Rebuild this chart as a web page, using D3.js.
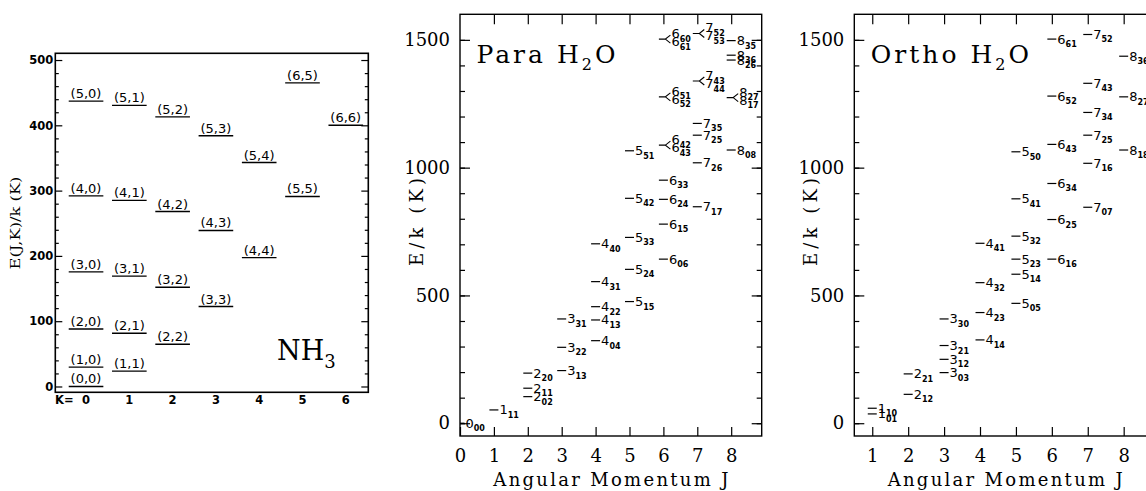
<!DOCTYPE html>
<html lang="en">
<head>
<meta charset="UTF-8">
<title>NH3 and H2O rotational levels</title>
<script src="https://cdn.jsdelivr.net/npm/d3@7"></script>
<style>
  body { margin: 0; background: #fff; }
  svg { display: block; }
</style>
</head>
<body>
<svg id="chart" width="1146" height="491"></svg>
<script>
// ---- NH3 (J,K) levels ----
const nh3Label = ["(0,0)", "(1,0)", "(1,1)", "(2,0)", "(2,1)", "(2,2)",
                  "(3,0)", "(3,1)", "(3,2)", "(3,3)",
                  "(4,0)", "(4,1)", "(4,2)", "(4,3)", "(4,4)",
                  "(5,0)", "(5,1)", "(5,2)", "(5,3)", "(5,4)", "(5,5)",
                  "(6,5)", "(6,6)"];
const nh3K = [0, 0, 1, 0, 1, 2, 0, 1, 2, 3, 0, 1, 2, 3, 4, 0, 1, 2, 3, 4, 5, 5, 6];
const nh3E = [0, 29.6, 23.5, 88, 81.6, 64.8, 175.5, 169, 152, 122.4,
              292, 285, 268, 239, 197.4, 437, 430.6, 413, 384, 343, 291, 465, 400];
const nh3YTicks = [0, 100, 200, 300, 400, 500];
const nh3KTicks = [0, 1, 2, 3, 4, 5, 6];

// ---- para H2O levels (J, KaKc, E/k) ----
const paraJ = [0, 1, 2, 2, 2, 3, 3, 3, 4, 4, 4, 4, 4, 5, 5, 5, 5, 5,
               6, 6, 6, 6, 7, 7, 7, 7, 8, 8, 8, 8];
const paraSub = ["00", "11", "02", "11", "20", "13", "22", "31", "04", "13", "22", "31", "40",
                 "15", "24", "33", "42", "51", "06", "15", "24", "33",
                 "17", "26", "25", "35", "08", "35", "36", "26"];
const paraE = [0, 52, 104, 137, 196, 206, 297, 408, 323, 404, 456, 554, 702,
               476, 602, 727, 880, 1066, 642, 779, 876, 951,
               847, 1019, 1127, 1173, 1069, 1497, 1440, 1421];
// near-degenerate pairs drawn with a "<" fork
const paraPairJ = [6, 6, 6, 7, 7, 8];
const paraPairUp = ["60", "51", "42", "52", "43", "27"];
const paraPairDown = ["61", "52", "43", "53", "44", "17"];
const paraPairE = [1503, 1277, 1088, 1525, 1339, 1274];

// ---- ortho H2O levels ----
const orthoJ = [1, 1, 2, 2, 3, 3, 3, 3, 4, 4, 4, 4, 5, 5, 5, 5, 5, 5,
                6, 6, 6, 6, 6, 6, 7, 7, 7, 7, 7, 7, 8, 8, 8];
const orthoSub = ["10", "01", "12", "21", "03", "12", "21", "30", "14", "23", "32", "41",
                  "05", "14", "23", "32", "41", "50", "16", "25", "34", "43", "52", "61",
                  "07", "16", "25", "34", "43", "52", "18", "27", "36"];
const orthoE = [58.6, 36.4, 113, 193, 198, 250, 304, 408, 326, 433, 550, 704,
                469, 583, 642, 732, 878, 1062, 642, 797, 938, 1091, 1280, 1503,
                845, 1017, 1127, 1216, 1330, 1521, 1069, 1277, 1436];

const jTicks = [1, 2, 3, 4, 5, 6, 7, 8];
const eMajor = [0, 500, 1000, 1500];
const eMinor = d3.range(0, 1600, 100);

const svg = d3.select("#chart");
svg.append("rect").attr("width", 1146).attr("height", 491).attr("fill", "#fff");

const serif = "'DejaVu Serif', serif";
const sans = "'DejaVu Sans', sans-serif";
const plain = d3.format("d");

function styleAxis(g, font, size, weight) {
    g.select(".domain").remove();
    g.selectAll("line").attr("stroke", "#000").attr("stroke-width", 1.2);
    g.selectAll("text").attr("font-family", font).attr("font-size", size)
        .attr("font-weight", weight || "normal").attr("fill", "#000");
}

// ================= NH3 panel =================
function drawNH3() {
    const L = 55.3, R = 368.3, T = 53.3, B = 392.3;
    const x = d3.scaleLinear().domain([-0.71, 6.52]).range([L, R]);
    const y = d3.scaleLinear().domain([-8.9, 510.3]).range([B, T]);
    const g = svg.append("g");

    const minor = d3.range(0, 511, 20).filter(v => v % 100 !== 0);
    g.append("g").attr("transform", `translate(${L},0)`)
        .call(d3.axisLeft(y).tickValues(nh3YTicks).tickSize(-7).tickPadding(2).tickFormat(plain))
        .call(a => styleAxis(a, sans, 11.5, "bold"));
    g.append("g").attr("transform", `translate(${L},0)`)
        .call(d3.axisLeft(y).tickValues(minor).tickSize(-3.5).tickFormat(""))
        .call(a => styleAxis(a, sans, 11));
    g.append("g").attr("transform", `translate(${R},0)`)
        .call(d3.axisRight(y).tickValues(nh3YTicks).tickSize(-7).tickFormat(""))
        .call(a => styleAxis(a, sans, 11));
    g.append("g").attr("transform", `translate(${R},0)`)
        .call(d3.axisRight(y).tickValues(minor).tickSize(-3.5).tickFormat(""))
        .call(a => styleAxis(a, sans, 11));

    g.append("rect").attr("x", L).attr("y", T).attr("width", R - L).attr("height", B - T)
        .attr("fill", "none").attr("stroke", "#000").attr("stroke-width", 1.6);

    // K labels along the bottom
    g.selectAll(".klab").data(nh3KTicks).join("text")
        .attr("x", d => x(d)).attr("y", 404)
        .attr("text-anchor", "middle")
        .attr("font-family", sans).attr("font-size", 11.5).attr("font-weight", "bold")
        .text(d => d);
    g.append("text").attr("x", 55).attr("y", 404)
        .attr("font-family", sans).attr("font-size", 11.5).attr("font-weight", "bold")
        .text("K=");

    // levels
    const lv = g.selectAll(".lv").data(nh3Label.map((l, i) => ({l, k: nh3K[i], e: nh3E[i]})))
        .join("g");
    lv.append("line")
        .attr("x1", d => x(d.k - 0.4)).attr("x2", d => x(d.k + 0.4))
        .attr("y1", d => y(d.e)).attr("y2", d => y(d.e))
        .attr("stroke", "#000").attr("stroke-width", 1.4);
    lv.append("text")
        .attr("x", d => x(d.k)).attr("y", d => y(d.e) - 3)
        .attr("text-anchor", "middle")
        .attr("font-family", sans).attr("font-size", 13)
        .text(d => d.l);

    g.append("text")
        .attr("transform", "translate(20,223) rotate(-90)")
        .attr("text-anchor", "middle")
        .attr("font-family", serif).attr("font-size", 13)
        .attr("textLength", 93).attr("lengthAdjust", "spacingAndGlyphs")
        .text("E(J,K)/k (K)");

    const t = g.append("text").attr("x", 277).attr("y", 360)
        .attr("font-family", serif).attr("font-size", 27);
    t.append("tspan").text("NH");
    t.append("tspan").attr("font-size", 18).attr("dy", 8).text("3");
}

// ================= H2O panels =================
function drawH2O(o) {
    const L = o.left, R = o.left + 301.7, T = 14.3, B = 436;
    const x = d3.scaleLinear().domain(o.xDomain).range([L, R]);
    const y = d3.scaleLinear().domain([-50, 1600]).range([B, T]);
    const g = svg.append("g");

    g.append("g").attr("transform", `translate(0,${B})`)
        .call(d3.axisBottom(x).tickValues(o.xTicks).tickSize(-9).tickPadding(13).tickFormat(plain))
        .call(a => styleAxis(a, serif, 18));
    g.append("g").attr("transform", `translate(0,${T})`)
        .call(d3.axisTop(x).tickValues(jTicks).tickSize(-10).tickFormat(""))
        .call(a => styleAxis(a, serif, 18));
    g.append("g").attr("transform", `translate(${L},0)`)
        .call(d3.axisLeft(y).tickValues(eMajor).tickSize(-10).tickPadding(10).tickFormat(plain))
        .call(a => styleAxis(a, serif, 18));
    g.append("g").attr("transform", `translate(${L},0)`)
        .call(d3.axisLeft(y).tickValues(eMinor).tickSize(-5).tickFormat(""))
        .call(a => styleAxis(a, serif, 18));
    g.append("g").attr("transform", `translate(${R},0)`)
        .call(d3.axisRight(y).tickValues(eMajor).tickSize(-10).tickFormat(""))
        .call(a => styleAxis(a, serif, 18));
    g.append("g").attr("transform", `translate(${R},0)`)
        .call(d3.axisRight(y).tickValues(eMinor).tickSize(-5).tickFormat(""))
        .call(a => styleAxis(a, serif, 18));

    g.append("rect").attr("x", L).attr("y", T).attr("width", R - L).attr("height", B - T)
        .attr("fill", "none").attr("stroke", "#000").attr("stroke-width", 1.4);

    // single levels
    const lv = g.selectAll(".lv")
        .data(o.J.map((j, i) => ({j, s: o.sub[i], e: o.E[i]})))
        .join("g");
    lv.append("line")
        .attr("x1", d => Math.max(L, x(d.j) - 4.5)).attr("x2", d => x(d.j) + 4.5)
        .attr("y1", d => y(d.e)).attr("y2", d => y(d.e))
        .attr("stroke", "#000").attr("stroke-width", 1.2);
    const lt = lv.append("text")
        .attr("x", d => x(d.j) + 5.5).attr("y", d => y(d.e) + 4.5)
        .attr("font-family", sans).attr("fill", "#000");
    lt.append("tspan").attr("font-size", 13).text(d => d.j);
    lt.append("tspan").attr("font-size", 8).attr("font-weight", "bold").attr("dy", 3.5)
        .text(d => d.s);

    // forked pairs
    if (o.pairJ) {
        const pv = g.selectAll(".pv")
            .data(o.pairJ.map((j, i) => ({j, up: o.pairUp[i], dn: o.pairDown[i], e: o.pairE[i]})))
            .join("g");
        pv.append("path")
            .attr("d", d => {
                const px = x(d.j), py = y(d.e);
                return `M${px - 4.5},${py}H${px + 2}M${px + 7},${py - 4}L${px + 2},${py}L${px + 7},${py + 4}`;
            })
            .attr("fill", "none").attr("stroke", "#000").attr("stroke-width", 1.1);
        [["up", -1], ["dn", 7]].forEach(([key, off]) => {
            const tt = pv.append("text")
                .attr("x", d => x(d.j) + 8).attr("y", d => y(d.e) + off)
                .attr("font-family", sans).attr("fill", "#000");
            tt.append("tspan").attr("font-size", 13).text(d => d.j);
            tt.append("tspan").attr("font-size", 8).attr("font-weight", "bold").attr("dy", 3.5)
                .text(d => d[key]);
        });
    }

    const cx = (L + R) / 2;
    g.append("text").attr("x", cx).attr("y", 486)
        .attr("text-anchor", "middle")
        .attr("font-family", serif).attr("font-size", 18)
        .attr("textLength", 235).attr("lengthAdjust", "spacing")
        .text("Angular Momentum J");
    g.append("text")
        .attr("transform", `translate(${L - 37},222) rotate(-90)`)
        .attr("text-anchor", "middle")
        .attr("font-family", serif).attr("font-size", 18)
        .attr("textLength", 88).attr("lengthAdjust", "spacing")
        .text("E/k (K)");

    const t = g.append("text").attr("x", L + 16.5).attr("y", 63.3)
        .attr("font-family", serif).attr("font-size", 25).attr("letter-spacing", 3);
    t.append("tspan").text(o.title + " H");
    t.append("tspan").attr("font-size", 16).attr("dy", 7).text("2");
    t.append("tspan").attr("dy", -7).text("O");
}

drawNH3();
drawH2O({left: 460, xDomain: [0, 8.9], xTicks: [0].concat(jTicks), title: "Para",
         J: paraJ, sub: paraSub, E: paraE,
         pairJ: paraPairJ, pairUp: paraPairUp, pairDown: paraPairDown, pairE: paraPairE});
drawH2O({left: 854.3, xDomain: [0.5, 8.9], xTicks: jTicks, title: "Ortho",
         J: orthoJ, sub: orthoSub, E: orthoE});
</script>
</body>
</html>
